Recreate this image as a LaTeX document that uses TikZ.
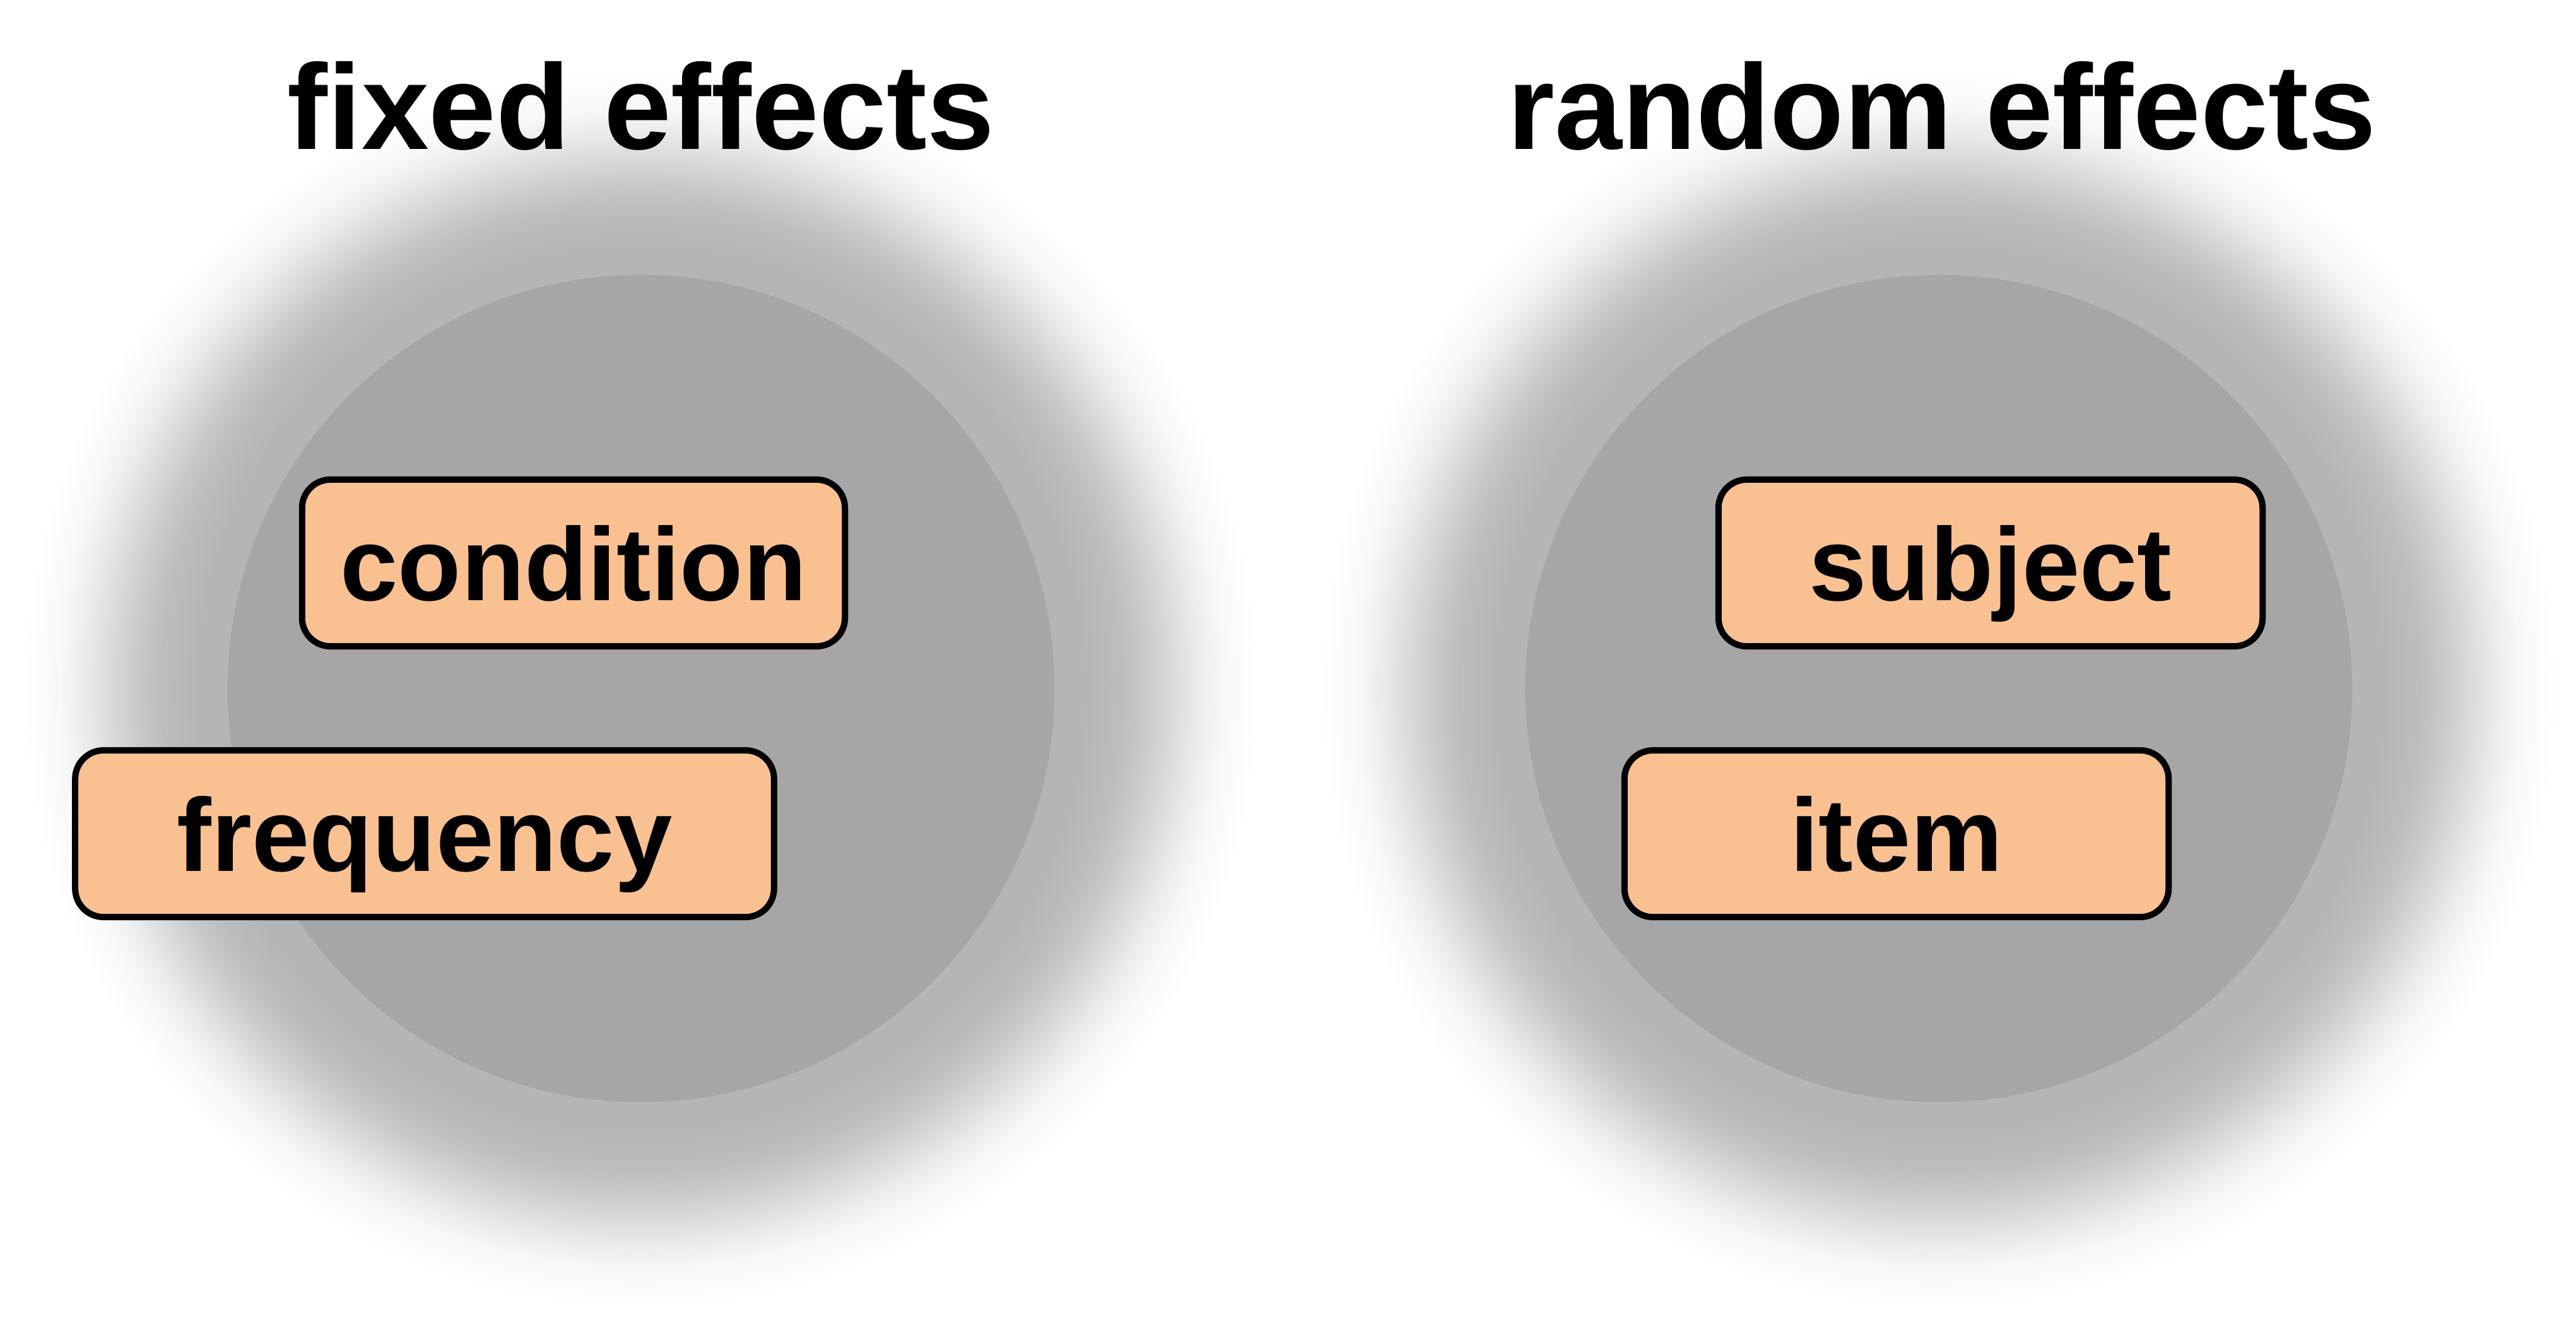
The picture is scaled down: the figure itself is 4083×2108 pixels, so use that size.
\documentclass[tikz,border=0pt]{standalone}
\usepackage{fontspec}
\setmainfont{Liberation Sans}
\definecolor{haloc}{gray}{0.71}
\definecolor{haloa}{gray}{0.739}
\definecolor{halob}{gray}{0.79}
\definecolor{halom}{gray}{0.855}
\definecolor{halod}{gray}{0.919}
\definecolor{haloe}{gray}{0.971}
\definecolor{innerc}{gray}{0.651}
\definecolor{boxfill}{RGB}{249,193,146}
\pgfdeclareradialshading{halo}{\pgfpoint{0bp}{0bp}}{color(0bp)=(haloc); color(17.86bp)=(haloc); color(19.4bp)=(haloa); color(20.4bp)=(halob); color(21.43bp)=(halom); color(22.45bp)=(halod); color(23.47bp)=(haloe); color(25bp)=(white); color(50bp)=(white)}
\begin{document}
\begin{tikzpicture}[x=0.01cm,y=-0.01cm,
  effbox/.style={draw=black, line width=0.1cm, fill=boxfill, rounded corners=0.45cm,
    minimum width=#1, minimum height=2.64cm, inner sep=0pt, text height=1.18cm, text depth=0pt,
    font=\fontsize{46.7pt}{50pt}\selectfont\bfseries},
  titletext/.style={font=\fontsize{54.6pt}{60pt}\selectfont\bfseries, anchor=base, inner sep=0pt},
  halonode/.style={circle, shading=halo, minimum size=19.6cm, inner sep=0pt, draw=none},
  setnode/.style={circle, fill=innerc, minimum size=13.1cm, inner sep=0pt, draw=none}]
\useasboundingbox[fill=white] (0,0) rectangle (4083,2108);
\node[halonode] (lhalo) at (1016,1091) {};
\node[halonode] (rhalo) at (3073,1091) {};
\node[setnode] (lset) at (1016,1091) {};
\node[setnode] (rset) at (3073,1091) {};
\node[effbox=8.6cm] (condition) at (909,892) {condition};
\node[effbox=11.07cm] (frequency) at (673,1321) {frequency};
\node[effbox=8.62cm] (subject) at (3155,892) {subject};
\node[effbox=8.62cm] (item) at (3006,1321) {item};
\node[titletext] (fixed) at (1016,236) {fixed effects};
\node[titletext] (random) at (3078,236) {random effects};
\end{tikzpicture}
\end{document}
